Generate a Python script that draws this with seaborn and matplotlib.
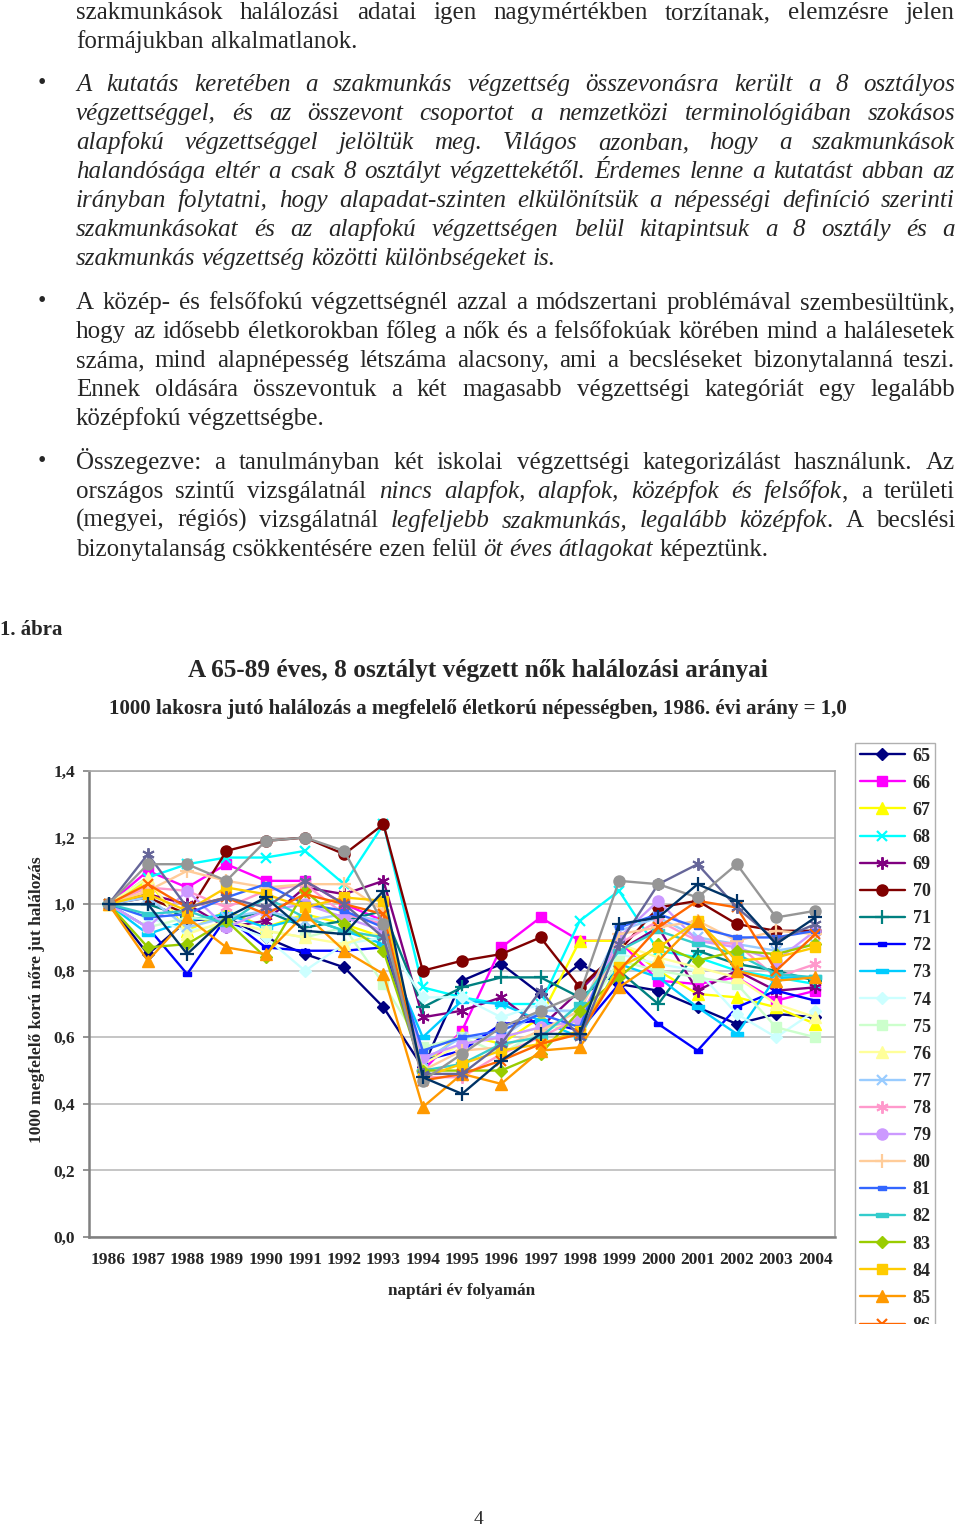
import matplotlib
matplotlib.use("Agg")
import matplotlib.pyplot as plt
import seaborn as sns
from matplotlib.patches import Rectangle
from matplotlib.font_manager import FontProperties

# ---------------- data ----------------
years = ["1986", "1987", "1988", "1989", "1990", "1991", "1992", "1993", "1994", "1995",
         "1996", "1997", "1998", "1999", "2000", "2001", "2002", "2003", "2004"]
ages = ["65", "66", "67", "68", "69", "70", "71", "72", "73", "74", "75", "76", "77",
        "78", "79", "80", "81", "82", "83", "84", "85", "86", "87", "88", "89"]

s65 = [1.00, 0.85, 0.95, 0.96, 0.90, 0.85, 0.81, 0.69, 0.51, 0.77, 0.82, 0.73, 0.82, 0.76, 0.74, 0.69, 0.64, 0.67, 0.66]
s66 = [1.00, 1.10, 1.05, 1.12, 1.07, 1.07, 1.00, 0.95, 0.50, 0.62, 0.87, 0.96, 0.89, 0.89, 0.77, 0.76, 0.78, 0.71, 0.74]
s67 = [1.00, 1.07, 0.92, 0.98, 0.93, 0.97, 0.94, 0.90, 0.52, 0.61, 0.58, 0.66, 0.89, 0.89, 0.80, 0.73, 0.72, 0.69, 0.64]
s68 = [1.00, 1.08, 1.12, 1.14, 1.14, 1.16, 1.06, 1.24, 0.75, 0.72, 0.70, 0.70, 0.95, 1.04, 0.86, 0.84, 0.80, 0.78, 0.76]
s69 = [1.00, 1.03, 1.00, 0.93, 0.95, 1.05, 1.03, 1.07, 0.66, 0.68, 0.72, 0.63, 0.74, 0.86, 0.93, 0.74, 0.80, 0.74, 0.75]
s70 = [1.00, 1.02, 0.97, 1.16, 1.19, 1.20, 1.15, 1.24, 0.80, 0.83, 0.85, 0.90, 0.75, 0.86, 0.99, 1.01, 0.94, 0.92, 0.92]
s71 = [1.00, 1.00, 0.96, 0.95, 0.98, 0.93, 0.95, 0.98, 0.69, 0.75, 0.78, 0.78, 0.72, 0.80, 0.70, 0.86, 0.82, 0.80, 0.77]
s72 = [1.00, 0.93, 0.79, 0.96, 0.87, 0.86, 0.86, 0.87, 0.53, 0.56, 0.64, 0.65, 0.62, 0.76, 0.64, 0.56, 0.69, 0.74, 0.71]
s73 = [1.00, 0.91, 0.95, 0.97, 0.93, 0.96, 0.92, 0.88, 0.60, 0.71, 0.70, 0.65, 0.60, 0.82, 0.78, 0.69, 0.61, 0.78, 0.78]
s74 = [1.00, 0.96, 0.92, 0.94, 0.90, 0.80, 0.88, 0.90, 0.72, 0.72, 0.66, 0.70, 0.66, 0.85, 0.82, 0.80, 0.67, 0.60, 0.68]
s75 = [1.00, 0.93, 0.96, 0.95, 0.92, 0.90, 0.93, 0.76, 0.57, 0.60, 0.55, 0.62, 0.65, 0.83, 0.80, 0.78, 0.76, 0.63, 0.60]
s76 = [1.00, 1.08, 0.91, 0.95, 0.92, 0.90, 0.88, 0.92, 0.52, 0.58, 0.60, 0.63, 0.64, 0.88, 0.84, 0.81, 0.78, 0.70, 0.66]
s77 = [1.00, 1.02, 0.93, 0.96, 0.98, 0.95, 0.97, 0.95, 0.53, 0.60, 0.60, 0.68, 0.68, 0.92, 0.96, 0.90, 0.88, 0.86, 0.88]
s78 = [1.00, 1.05, 1.04, 0.99, 1.04, 1.06, 0.97, 0.94, 0.48, 0.48, 0.55, 0.60, 0.66, 0.88, 0.95, 0.89, 0.88, 0.78, 0.82]
s79 = [1.00, 0.93, 1.04, 0.93, 0.98, 1.00, 0.96, 0.92, 0.54, 0.58, 0.60, 0.63, 0.65, 0.90, 1.01, 0.89, 0.87, 0.83, 0.92]
s80 = [1.00, 1.04, 1.10, 1.07, 1.05, 1.06, 1.06, 0.98, 0.50, 0.56, 0.57, 0.62, 0.68, 0.91, 0.93, 0.95, 0.89, 0.92, 0.91]
s81 = [1.00, 0.96, 0.97, 1.02, 1.06, 1.00, 0.98, 0.93, 0.56, 0.60, 0.62, 0.67, 0.63, 0.93, 0.97, 0.93, 0.90, 0.90, 0.92]
s82 = [1.00, 0.97, 0.98, 0.94, 1.02, 0.96, 0.92, 0.90, 0.50, 0.52, 0.58, 0.60, 0.70, 0.86, 0.92, 0.88, 0.85, 0.79, 0.78]
s83 = [1.00, 0.87, 0.88, 0.95, 0.84, 1.04, 0.94, 0.86, 0.50, 0.50, 0.50, 0.55, 0.68, 0.78, 0.88, 0.83, 0.86, 0.85, 0.88]
s84 = [1.00, 1.03, 0.98, 1.05, 1.03, 0.99, 1.02, 1.01, 0.48, 0.52, 0.56, 0.58, 0.62, 0.81, 0.87, 0.95, 0.83, 0.84, 0.87]
s85 = [1.00, 0.83, 0.96, 0.87, 0.85, 0.97, 0.86, 0.79, 0.39, 0.49, 0.46, 0.56, 0.57, 0.75, 0.83, 0.95, 0.80, 0.77, 0.78]
s86 = [1.00, 1.06, 0.99, 1.02, 0.97, 1.03, 1.00, 0.97, 0.47, 0.49, 0.53, 0.58, 0.61, 0.80, 0.93, 1.01, 0.99, 0.80, 0.91]
s87 = [1.00, 1.15, 0.99, 1.02, 0.99, 1.07, 1.00, 0.90, 0.49, 0.49, 0.58, 0.74, 0.60, 0.88, 1.06, 1.12, 0.99, 0.89, 0.94]
s88 = [1.00, 1.12, 1.12, 1.07, 1.19, 1.20, 1.16, 0.94, 0.47, 0.55, 0.63, 0.68, 0.73, 1.07, 1.06, 1.02, 1.12, 0.96, 0.98]
s89 = [1.00, 1.00, 0.85, 0.96, 1.02, 0.92, 0.91, 1.04, 0.48, 0.43, 0.53, 0.61, 0.61, 0.94, 0.96, 1.06, 1.01, 0.88, 0.96]

series = [s65, s66, s67, s68, s69, s70, s71, s72, s73, s74, s75, s76, s77,
          s78, s79, s80, s81, s82, s83, s84, s85, s86, s87, s88, s89]

ytick_vals = [0.0, 0.2, 0.4, 0.6, 0.8, 1.0, 1.2, 1.4]
ytick_labels = ["0,0", "0,2", "0,4", "0,6", "0,8", "1,0", "1,2", "1,4"]

# ---------------- styles ----------------
colors = ["#000080", "#FF00FF", "#FFFF00", "#00FFFF", "#800080", "#800000", "#008080",
          "#0000FF", "#00CCFF", "#CCFFFF", "#CCFFCC", "#FFFF99", "#99CCFF", "#FF99CC",
          "#CC99FF", "#FFCC99", "#3366FF", "#33CCCC", "#99CC00", "#FFCC00", "#FF9900",
          "#FF6600", "#666699", "#969696", "#003366"]
short_bar = [(-1, -0.4), (1, -0.4), (1, 0.4), (-1, 0.4), (-1, -0.4)]
long_bar = [(-1, -0.28), (1, -0.28), (1, 0.28), (-1, 0.28), (-1, -0.28)]
marker_cycle = [("D", 6.5, 1.0), ("s", 7.0, 1.0), ("^", 8.0, 1.0), ("x", 7.5, 1.6),
                ((6, 2, 0), 9.0, 1.4), ("o", 8.0, 1.0), ("+", 10.0, 1.6),
                (short_bar, 6.0, 1.0), (long_bar, 9.0, 1.0)]

SERIF = "Liberation Serif"
W, H = 960, 1531

sns.set_style("white")
plt.rcParams["font.family"] = [SERIF, "DejaVu Serif"]

fig = plt.figure(figsize=(W / 100, H / 100), dpi=100)


def fx(px):
    return px / W


def fy(py):
    return 1 - py / H


# ---------------- chart ----------------
ax = fig.add_axes([fx(89), fy(1237), fx(835) - fx(89), fy(771) - fy(1237)])
xs = list(range(len(years)))
for i, (age, vals) in enumerate(zip(ages, series)):
    mk, ms, mew = marker_cycle[i % len(marker_cycle)]
    c = colors[i]
    sns.lineplot(x=xs, y=vals, ax=ax, color=c, marker=mk, markersize=ms,
                 markeredgecolor=c, markeredgewidth=mew, linewidth=1.7,
                 label=age, legend=False, zorder=3 + i * 0.01)

ax.set_xlim(-0.5, len(years) - 0.5)
ax.set_ylim(0, 1.4)
ax.set_yticks(ytick_vals)
ax.set_yticklabels(ytick_labels, fontsize=12.5, fontweight="bold", family=SERIF)
ax.set_xticks(xs)
ax.set_xticklabels(years, fontsize=12.5, fontweight="bold", family=SERIF)
ax.tick_params(axis="y", length=4, width=1.2, color="#808080", pad=6, direction="out", left=True)
ax.tick_params(axis="x", length=0, pad=11)
ax.yaxis.grid(True, color="#b5b5b5", linewidth=1.1)
ax.xaxis.grid(False)
ax.set_axisbelow(True)
for side in ["left", "bottom"]:
    ax.spines[side].set_color("#808080")
    ax.spines[side].set_linewidth(1.8)
for side in ["top", "right"]:
    ax.spines[side].set_color("#a8a8a8")
    ax.spines[side].set_linewidth(1.2)
ax.set_xlabel("")
ax.set_ylabel("")

# legend (clipped at the bottom like the reference)
handles = ax.get_lines()[:22]
labels = [h.get_label() for h in handles]
leg = fig.legend(handles, labels, loc="upper left", bbox_to_anchor=(fx(855), fy(743)),
                 frameon=True, fancybox=False, edgecolor="#b0b0b0", framealpha=1,
                 prop=FontProperties(family=SERIF, weight="bold", size=13),
                 handlelength=2.5, handletextpad=0.45, labelspacing=0.56,
                 borderpad=0.25, borderaxespad=0)
leg.get_frame().set_linewidth(1.0)
fig.patches.append(Rectangle((fx(850), fy(1380)), fx(110), fy(1324) - fy(1380),
                             transform=fig.transFigure, facecolor="white",
                             edgecolor="none", zorder=20))

# chart texts
fig.text(fx(37), fy(1000), "1000 megfelelő korú nőre jut halálozás", rotation=90,
         ha="center", va="center", fontsize=12.5, fontweight="bold", family=SERIF)
fig.text(fx(462), fy(1291), "naptári év folyamán", ha="center", va="center",
         fontsize=12.3, fontweight="bold", family=SERIF)
fig.text(fx(478), fy(670), "A 65-89 éves, 8 osztályt végzett nők halálozási arányai",
         ha="center", va="center", fontsize=18.2, fontweight="bold", family=SERIF)
fig.text(fx(478), fy(709),
         "1000 lakosra jutó halálozás a megfelelő életkorú népességben, 1986. évi arány = 1,0",
         ha="center", va="center", fontsize=15.1, fontweight="bold", family=SERIF)
fig.text(fx(0), fy(630), "1. ábra", ha="left", va="center", fontsize=15,
         fontweight="bold", family=SERIF)
fig.text(fx(478), fy(1520), "4", ha="center", va="center", fontsize=14, family=SERIF)

# ---------------- body text ----------------
renderer = fig.canvas.get_renderer()
BODY = 18
LEFT, RIGHT = 76, 955


def width_of(s, italic):
    t = fig.text(0, 0, s, fontsize=BODY, family=SERIF,
                 fontstyle="italic" if italic else "normal")
    w = t.get_window_extent(renderer).width
    t.remove()
    return w


def parse(line, italic):
    words = []
    for raw in line.split(" "):
        segs = []
        cur = ""
        for ch in raw:
            if ch == "*":
                if cur:
                    segs.append((cur, italic))
                cur = ""
                italic = not italic
            else:
                cur += ch
        if cur:
            segs.append((cur, italic))
        words.append(segs)
    return words, italic


def draw_par(lines, y0, italic=False, bullet=False):
    space_w = width_of("a a", False) - width_of("aa", False)
    state = italic
    for k, line in enumerate(lines):
        yc = y0 + 29 * k
        words, state = parse(line, state)
        widths = [[width_of(s, it) for s, it in w] for w in words]
        total = sum(sum(ws) for ws in widths)
        last = (k == len(lines) - 1)
        if last or len(words) == 1:
            gap = space_w
        else:
            gap = (RIGHT - LEFT - total) / (len(words) - 1)
        x = LEFT
        for w, ws in zip(words, widths):
            for (s, it), sw in zip(w, ws):
                fig.text(fx(x), fy(yc + 7), s, fontsize=BODY, family=SERIF,
                         fontstyle="italic" if it else "normal",
                         ha="left", va="baseline")
                x += sw
            x += gap
    if bullet:
        fig.text(fx(42), fy(y0), "•", fontsize=17, family=SERIF,
                 ha="center", va="center")


draw_par(["szakmunkások halálozási adatai igen nagymértékben torzítanak, elemzésre jelen",
          "formájukban alkalmatlanok."], 12)

draw_par(["A kutatás keretében a szakmunkás végzettség összevonásra került a 8 osztályos",
          "végzettséggel, és az összevont csoportot a nemzetközi terminológiában szokásos",
          "alapfokú végzettséggel jelöltük meg. Világos azonban, hogy a szakmunkások",
          "halandósága eltér a csak 8 osztályt végzettekétől. Érdemes lenne a kutatást abban az",
          "irányban folytatni, hogy alapadat-szinten elkülönítsük a népességi definíció szerinti",
          "szakmunkásokat és az alapfokú végzettségen belül kitapintsuk a 8 osztály és a",
          "szakmunkás végzettség közötti különbségeket is."], 84, italic=True, bullet=True)

draw_par(["A közép- és felsőfokú végzettségnél azzal a módszertani problémával szembesültünk,",
          "hogy az idősebb életkorokban főleg a nők és a felsőfokúak körében mind a halálesetek",
          "száma, mind alapnépesség létszáma alacsony, ami a becsléseket bizonytalanná teszi.",
          "Ennek oldására összevontuk a két magasabb végzettségi kategóriát egy legalább",
          "középfokú végzettségbe."], 302, bullet=True)

draw_par(["Összegezve: a tanulmányban két iskolai végzettségi kategorizálást használunk. Az",
          "országos szintű vizsgálatnál *nincs alapfok, alapfok, középfok és felsőfok*, a területi",
          "(megyei, régiós) vizsgálatnál *legfeljebb szakmunkás, legalább középfok*. A becslési",
          "bizonytalanság csökkentésére ezen felül *öt éves átlagokat* képeztünk."], 462, bullet=True)

fig.savefig("out.png", dpi=100, facecolor="white")
